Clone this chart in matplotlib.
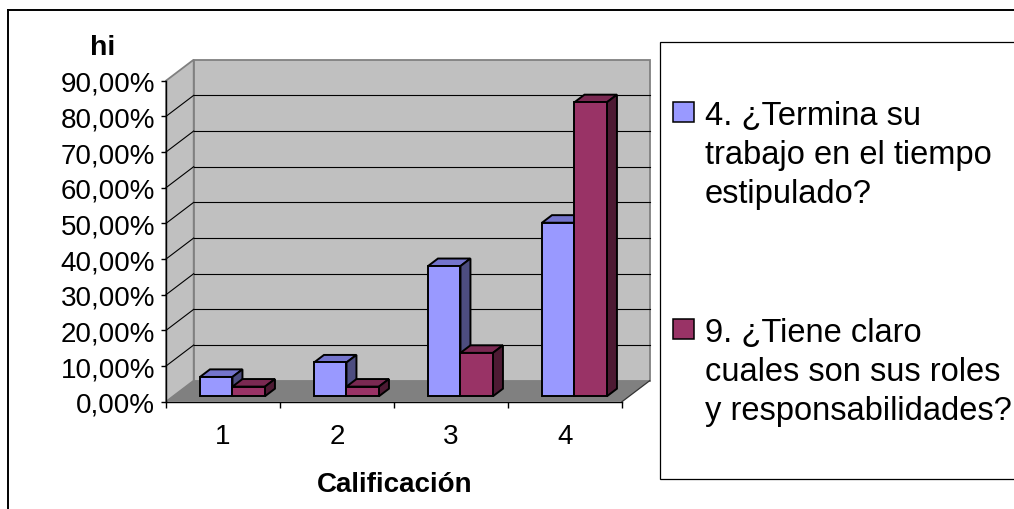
import matplotlib.pyplot as plt
from matplotlib.patches import Polygon, Rectangle
from matplotlib.lines import Line2D

plt.rcParams['font.family'] = ['Liberation Sans', 'DejaVu Sans']

# hi (frecuencia relativa, %) por calificación
categorias = ['1', '2', '3', '4']
termina = [5.41, 9.46, 36.49, 48.65]
roles = [2.70, 2.70, 12.16, 82.43]
series = [
    ['4. ¿Termina su', 'trabajo en el tiempo', 'estipulado?'],
    ['9. ¿Tiene claro', 'cuales son sus roles', 'y responsabilidades?'],
]
ticks_y = [0, 10, 20, 30, 40, 50, 60, 70, 80, 90]

# frente, tapa, lateral
colores = [('#9999FF', '#7474CC', '#4D4D80'),
           ('#993366', '#7A2952', '#4D1A33')]

W, H = 1014, 510
fig = plt.figure(figsize=(W / 100, H / 100), dpi=100)
ax = fig.add_axes([166 / W, 1 - 402.7 / H, (622 - 166) / W, (402.7 - 81.7) / H])
n = len(categorias)
tope = ticks_y[-1]
ax.set_xlim(0, n)
ax.set_ylim(0, tope)
ax.patch.set_visible(False)

# profundidad del efecto 3D en unidades de datos
DX, DY = 0.243, 5.89
f0, f1 = 0.26, 0.62      # profundidad de las barras (fracción)
off, w = 0.235, 0.285    # posición y ancho dentro de cada categoría

# paredes y piso
ax.add_patch(Polygon([(0, 0), (DX, DY), (DX, tope + DY), (0, tope)],
                     fc='#C0C0C0', ec='#808080', lw=1.3, clip_on=False, zorder=0))
ax.add_patch(Polygon([(DX, DY), (n + DX, DY), (n + DX, tope + DY), (DX, tope + DY)],
                     fc='#C0C0C0', ec='#808080', lw=1.3, clip_on=False, zorder=0))
ax.add_patch(Polygon([(0, 0), (n, 0), (n + DX, DY), (DX, DY)],
                     fc='#808080', ec='none', clip_on=False, zorder=0.2))
ax.plot([n, n + DX], [0, DY], color='#333333', lw=0.9, clip_on=False, zorder=0.3)

for v in ticks_y[1:-1]:
    ax.plot([DX, n + DX], [v + DY, v + DY], color='black', lw=0.8, clip_on=False, zorder=0.5)
    ax.plot([0, DX], [v, v + DY], color='black', lw=0.8, clip_on=False, zorder=0.5)

# barras
ddx, ddy = (f1 - f0) * DX, (f1 - f0) * DY
base = f0 * DY
for i in range(n):
    for s, valores in enumerate([termina, roles]):
        v = valores[i]
        x0 = i + off + s * w + f0 * DX
        x1 = x0 + w
        z = 2 + i * 0.1 + s * 0.05
        frente, tapa, lado = colores[s]
        ax.add_patch(Polygon([(x0, base + v), (x1, base + v), (x1 + ddx, base + v + ddy),
                              (x0 + ddx, base + v + ddy)],
                             fc=tapa, ec='black', lw=1.4, zorder=z, clip_on=False))
        ax.add_patch(Polygon([(x1, base), (x1 + ddx, base + ddy), (x1 + ddx, base + v + ddy),
                              (x1, base + v)],
                             fc=lado, ec='black', lw=1.4, zorder=z, clip_on=False))
        ax.bar(x0, v, width=w, bottom=base, align='edge', color=frente,
               edgecolor='black', lw=1.4, zorder=z + 0.01, clip_on=False)

# ejes
for lado in ['top', 'right']:
    ax.spines[lado].set_visible(False)
for lado in ['left', 'bottom']:
    ax.spines[lado].set_linewidth(1.0)
    ax.spines[lado].set_zorder(1)

ax.set_yticks(ticks_y)
ax.set_yticklabels([f'{v:.2f}%'.replace('.', ',') for v in ticks_y])
ax.tick_params(axis='y', direction='out', length=3.6, width=1, pad=4.3, labelsize=20)

ax.set_xticks(range(n + 1))
ax.set_xticklabels([])
ax.set_xticks([i + 0.5 for i in range(n)], minor=True)
ax.set_xticklabels(categorias, minor=True)
ax.tick_params(axis='x', which='major', direction='out', length=4.5, width=1)
ax.tick_params(axis='x', which='minor', length=0, pad=15, labelsize=20)

fig.text(103 / W, 1 - 55 / H, 'hi', fontsize=20.5, fontweight='bold', ha='center', va='baseline')
fig.text(394.5 / W, 1 - 492 / H, 'Calificación', fontsize=20, fontweight='bold',
         ha='center', va='baseline')

# leyenda
fig.add_artist(Rectangle((660 / W, 1 - 480 / H), (1030 - 660) / W, (480 - 42.7) / H,
                         transform=fig.transFigure, fc='white', ec='black', lw=0.9))
linea0 = [125, 342]
for s, lineas in enumerate(series):
    b = linea0[s]
    fig.add_artist(Rectangle((673 / W, 1 - (b - 2) / H), 21 / W, 20 / H,
                             transform=fig.transFigure, fc=colores[s][0], ec='black', lw=1.1))
    for k, texto in enumerate(lineas):
        fig.text(705 / W, 1 - (b + 39 * k) / H, texto, fontsize=23.5, ha='left', va='baseline')

# marco del área del gráfico
fig.add_artist(Line2D([8 / W, 8 / W], [0, 1 - 11 / H], transform=fig.transFigure,
                      color='black', lw=1.4))
fig.add_artist(Line2D([8 / W, 1], [1 - 11 / H, 1 - 11 / H], transform=fig.transFigure,
                      color='black', lw=1.4))

fig.savefig('out.png', dpi=100)
